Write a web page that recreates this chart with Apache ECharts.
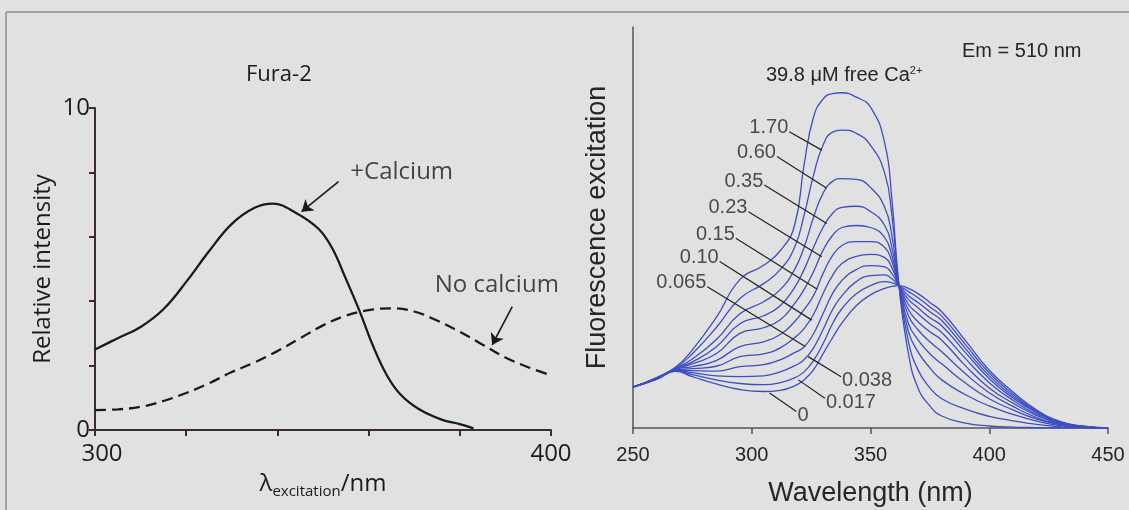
<!DOCTYPE html>
<html>
<head>
<meta charset="utf-8">
<script src="https://cdn.jsdelivr.net/npm/echarts@6/dist/echarts.min.js"></script>
<style>
html, body { margin: 0; padding: 0; background: #e1e1e1; }
#main { width: 1129px; height: 510px; }
</style>
</head>
<body>
<div id="main"></div>
<script>
// left panel : Fura-2, relative intensity vs excitation wavelength
var calciumX = [300, 305, 310, 315, 320, 325, 330, 335, 339, 344, 349, 352, 355, 358, 361, 364, 367, 371, 376, 380, 383];
var calciumY = [2.5, 2.85, 3.2, 3.75, 4.6, 5.55, 6.4, 6.9, 7.03, 6.75, 6.25, 5.65, 4.7, 3.7, 2.6, 1.7, 1.1, 0.65, 0.32, 0.18, 0.05];
var noCalciumX = [300, 305, 310, 315, 320, 325, 330, 335, 340, 345, 350, 355, 360, 365, 370, 375, 380, 385, 390, 395, 400];
var noCalciumY = [0.62, 0.64, 0.72, 0.9, 1.15, 1.45, 1.8, 2.1, 2.45, 2.85, 3.25, 3.55, 3.72, 3.78, 3.68, 3.4, 3.05, 2.65, 2.25, 1.95, 1.7];

// right panel : excitation spectra at different free Ca2+ (uM)
var wavelength = [250, 260, 268, 275, 285, 295, 305, 312, 318, 322, 326, 330, 334, 338, 344, 350, 356, 359, 362, 366, 370, 375, 380, 390, 400, 410, 420, 430, 440, 450];
var ca39_8 = [10.2, 12.6, 15.2, 19.5, 27.5, 37, 40.6, 44.2, 50.5, 65.5, 77.5, 82, 83.4, 83.6, 82.5, 80, 71, 57, 35.5, 18.5, 10, 5.5, 3, 1.2, 0.5, 0.2, 0.1, 0, 0, 0];
var ca1_70 = [10.2, 12.5, 15.0, 18.5, 25, 32.3, 36, 39.5, 45, 53, 63, 70.5, 73.8, 74.3, 73.5, 70.5, 63.5, 53, 35.5, 21.5, 14.5, 10, 7.3, 4.7, 2.9, 1.8, 0.9, 0.3, 0.1, 0];
var ca0_60 = [10.2, 12.5, 14.9, 17.2, 22, 28.5, 31.5, 34.5, 39.5, 45, 52.5, 58.5, 61.5, 62.2, 62, 60, 55, 48, 35.5, 24, 19, 15, 12, 8.3, 5.5, 3.4, 1.7, 0.6, 0.15, 0];
var ca0_35 = [10.2, 12.4, 14.8, 16.5, 20.2, 26, 28, 30.5, 35, 39.5, 45, 50, 53.5, 55, 55.3, 54, 50.5, 45, 35.5, 26, 22, 18.5, 16, 11.2, 7.3, 4.5, 2.2, 0.8, 0.2, 0];
var ca0_23 = [10.2, 12.4, 14.7, 16, 18.5, 23.6, 25, 27, 31, 34.5, 39, 44.3, 48, 50, 50.5, 50, 47.5, 43, 35.5, 28, 24.5, 21.5, 19, 13.5, 8.8, 5.4, 2.6, 0.9, 0.25, 0];
var ca0_15 = [10.2, 12.3, 14.6, 15.3, 16.8, 20.3, 21.5, 23.3, 26.5, 29.5, 33, 38.5, 43, 45.5, 46.5, 46.5, 45, 41.5, 35.5, 29.5, 26.5, 24, 21.9, 15.5, 10, 6.2, 3.1, 1, 0.27, 0];
var ca0_10 = [10.2, 12.3, 14.5, 14.8, 15.4, 17.8, 18.5, 20, 22.5, 24.8, 28.3, 33.5, 38, 41, 42.8, 43.3, 42.5, 40, 35.5, 30.8, 28.5, 26, 23.8, 17.3, 11.3, 6.9, 3.4, 1.2, 0.3, 0];
var ca0_065 = [10.2, 12.3, 14.4, 14.3, 14.2, 15.3, 15.8, 17, 18.8, 20.2, 23.5, 28.5, 33.5, 36.8, 39.5, 40.5, 40.2, 38.5, 35.5, 32, 30, 27.5, 25.5, 18.8, 12.3, 7.5, 3.8, 1.3, 0.35, 0];
var ca0_038 = [10.2, 12.2, 14.3, 13.8, 13, 12.8, 13, 14, 15.5, 17, 20, 24.5, 29.5, 33, 36.5, 38, 38.2, 37.2, 35.5, 33, 31.3, 29, 26.8, 19.8, 13, 8, 4, 1.4, 0.4, 0];
var ca0_017 = [10.2, 12.2, 14.2, 13.3, 12, 11.1, 10.8, 11.3, 12.5, 14, 16.8, 21, 26, 29.8, 33.5, 35.5, 36.5, 36.2, 35.5, 34, 32.5, 30.2, 27.9, 20.8, 13.7, 8.5, 4.2, 1.5, 0.4, 0];
var ca0 = [10.2, 12.2, 14.1, 12.8, 11, 9.6, 9.1, 9.4, 10.5, 12, 14.5, 18.5, 22.5, 26.2, 30.5, 33.2, 34.8, 35.3, 35.5, 34.8, 33.5, 31.3, 29, 21.8, 14.4, 9, 4.5, 1.6, 0.45, 0];
var spectra = [ca39_8, ca1_70, ca0_60, ca0_35, ca0_23, ca0_15, ca0_10, ca0_065, ca0_038, ca0_017, ca0];
var spectraNames = ['39.8', '1.70', '0.60', '0.35', '0.23', '0.15', '0.10', '0.065', '0.038', '0.017', '0'];

// curve labels and their leader lines (start, end) in data units
var labelNames = ['1.70', '0.60', '0.35', '0.23', '0.15', '0.10', '0.065', '0.038', '0.017', '0'];
var leaders = [
	[[315.8, 73.9], [329.5, 69.3]],
	[[310.6, 67.7], [331.6, 59.8]],
	[[305.3, 60.6], [331.6, 51.0]],
	[[298.6, 53.9], [329.5, 42.7]],
	[[293.3, 47.3], [327.6, 34.6]],
	[[286.5, 41.5], [325.3, 26.9]],
	[[281.3, 35.2], [322.5, 20.3]],
	[[323.8, 17.8], [337.6, 12.8]],
	[[319.6, 12.0], [330.8, 7.4]],
	[[307.5, 8.7], [318.8, 4.1]]
];

function zip(xs, ys) {
	var out = [];
	for (var i = 0; i < xs.length; i++) out.push([xs[i], ys[i]]);
	return out;
}

var leftFont = 'Open Sans';
var rightFont = 'Liberation Sans';
var ink = '#1c1c1c';
var ink2 = '#262626';

var series = [];

series.push({
	name : '+Calcium',
	type : 'line',
	xAxisIndex : 0,
	yAxisIndex : 0,
	data : zip(calciumX, calciumY),
	showSymbol : false,
	smooth : 0.4,
	lineStyle : { color : '#1a1a1a', width : 2.3 },
	markLine : {
		silent : true,
		symbol : [ 'none', 'arrow' ],
		symbolSize : 11,
		label : { show : false },
		lineStyle : { color : '#1a1a1a', width : 1.6, type : 'solid' },
		data : [ [ { coord : [ 353.4, 7.71 ] }, { coord : [ 345.3, 6.78 ] } ] ]
	}
});
series.push({
	name : 'No calcium',
	type : 'line',
	xAxisIndex : 0,
	yAxisIndex : 0,
	data : zip(noCalciumX, noCalciumY),
	showSymbol : false,
	smooth : 0.4,
	lineStyle : { color : '#1a1a1a', width : 2.3, type : [ 11, 6 ] },
	markLine : {
		silent : true,
		symbol : [ 'none', 'arrow' ],
		symbolSize : 11,
		label : { show : false },
		lineStyle : { color : '#1a1a1a', width : 1.6, type : 'solid' },
		data : [ [ { coord : [ 391.5, 3.83 ] }, { coord : [ 387.1, 2.64 ] } ] ]
	}
});
// left panel text
series.push({
	type : 'scatter',
	xAxisIndex : 0,
	yAxisIndex : 0,
	symbolSize : 0,
	silent : true,
	label : {
		show : true,
		position : 'right',
		distance : 0,
		formatter : '{b}',
		fontFamily : leftFont,
		fontSize : 24,
		color : ink
	},
	data : [ { name : '+Calcium', value : [ 356, 8.0 ] }, { name : 'No calcium', value : [ 374.5, 4.5 ] } ]
});

// right panel spectra
for (var k = 0; k < spectra.length; k++) {
	series.push({
		name : spectraNames[k],
		type : 'line',
		xAxisIndex : 1,
		yAxisIndex : 1,
		data : zip(wavelength, spectra[k]),
		showSymbol : false,
		smooth : 0.5,
		lineStyle : { color : '#3d4ec2', width : 1.3 }
	});
}

// right panel curve labels + leaders
var labelData = [];
var leaderData = [];
for (var j = 0; j < labelNames.length; j++) {
	var below = j >= 7;
	labelData.push({
		name : labelNames[j],
		value : below ? leaders[j][1] : leaders[j][0],
		label : {
			position : below ? 'right' : 'left',
			distance : 1,
			offset : below ? [ 0, 4 ] : [ 0, -4 ]
		}
	});
	leaderData.push([ { coord : leaders[j][0] }, { coord : leaders[j][1] } ]);
}
series.push({
	type : 'scatter',
	xAxisIndex : 1,
	yAxisIndex : 1,
	symbolSize : 0,
	silent : true,
	label : {
		show : true,
		formatter : '{b}',
		fontFamily : rightFont,
		fontSize : 20,
		color : ink2
	},
	data : labelData,
	markLine : {
		silent : true,
		symbol : [ 'none', 'none' ],
		label : { show : false },
		lineStyle : { color : '#222', width : 1.2, type : 'solid' },
		data : leaderData
	}
});

var option = {
	animation : false,
	backgroundColor : '#e1e1e1',
	title : [ {
		text : 'Fura-2',
		left : 246,
		top : 64,
		padding : 0,
		textStyle : { fontFamily : leftFont, fontSize : 22, fontWeight : 'normal', color : ink }
	}, {
		text : 'Em = 510 nm',
		left : 962,
		top : 41,
		padding : 0,
		textStyle : { fontFamily : rightFont, fontSize : 20, fontWeight : 'normal', color : ink2 }
	}, {
		text : '{a|39.8 μM free Ca}{b|2+}',
		left : 766,
		top : 65,
		padding : 0,
		textStyle : {
			fontWeight : 'normal',
			rich : {
				a : { fontFamily : rightFont, fontSize : 20, fontWeight : 'normal', color : ink2 },
				b : { fontFamily : rightFont, fontSize : 11, fontWeight : 'normal', color : ink2, padding : [ 0, 0, 9, 0 ] }
			}
		}
	} ],
	graphic : [ {
		type : 'line',
		silent : true,
		shape : { x1 : 6, y1 : 12, x2 : 1129, y2 : 12 },
		style : { stroke : '#8e8e8e', lineWidth : 1.5 }
	}, {
		type : 'line',
		silent : true,
		shape : { x1 : 6, y1 : 12, x2 : 6, y2 : 510 },
		style : { stroke : '#8e8e8e', lineWidth : 1.5 }
	} ],
	grid : [ {
		left : 95, right : 578, top : 108, bottom : 80,
		containLabel : false, outerBoundsMode : 'none'
	}, {
		left : 633, right : 21, top : 27, bottom : 82,
		containLabel : false, outerBoundsMode : 'none'
	} ],
	xAxis : [ {
		gridIndex : 0,
		type : 'value',
		min : 300,
		max : 400,
		interval : 20,
		name : '{l|λ}{s|excitation}{l|/nm}',
		nameLocation : 'middle',
		nameGap : 40,
		nameTextStyle : {
			rich : {
				l : { fontFamily : leftFont, fontSize : 24, color : ink },
				s : { fontFamily : leftFont, fontSize : 15, color : ink, padding : [ 14, 0, 0, 0 ] }
			}
		},
		axisLine : { lineStyle : { color : '#3b2b33', width : 2 } },
		axisTick : { length : 6, lineStyle : { color : '#3b2b33', width : 2 } },
		splitLine : { show : false },
		axisLabel : {
			margin : 12,
			fontFamily : leftFont,
			fontSize : 24,
			color : ink,
			formatter : function(v) {
				if (v === 300) return '{p|300}';
				if (v === 400) return '400';
				return '';
			},
			rich : { p : { fontFamily : leftFont, fontSize : 24, color : ink, padding : [ 0, 0, 0, 14 ] } }
		}
	}, {
		gridIndex : 1,
		type : 'value',
		min : 250,
		max : 450,
		interval : 50,
		name : 'Wavelength (nm)',
		nameLocation : 'middle',
		nameGap : 52,
		nameTextStyle : { fontFamily : rightFont, fontSize : 27, color : ink2 },
		axisLine : { lineStyle : { color : '#555', width : 1.5 } },
		axisTick : { length : 6, lineStyle : { color : '#555', width : 1.5 } },
		splitLine : { show : false },
		axisLabel : { margin : 17, fontFamily : rightFont, fontSize : 20, color : ink2 }
	} ],
	yAxis : [ {
		gridIndex : 0,
		type : 'value',
		min : 0,
		max : 10,
		interval : 2,
		name : 'Relative intensity',
		nameLocation : 'middle',
		nameGap : 40,
		nameTextStyle : { fontFamily : leftFont, fontSize : 24, color : ink },
		axisLine : { show : true, lineStyle : { color : '#3b2b33', width : 2 } },
		axisTick : { show : true, length : 6, lineStyle : { color : '#3b2b33', width : 2 } },
		splitLine : { show : false },
		axisLabel : {
			margin : 5,
			fontFamily : leftFont,
			fontSize : 24,
			color : ink,
			formatter : function(v) {
				return (v === 0 || v === 10) ? String(v) : '';
			}
		}
	}, {
		gridIndex : 1,
		type : 'value',
		min : 0,
		max : 100,
		name : 'Fluorescence excitation',
		nameLocation : 'middle',
		nameGap : 22,
		nameTextStyle : { fontFamily : rightFont, fontSize : 27, color : ink2 },
		axisLine : { show : true, lineStyle : { color : '#555', width : 1.5 } },
		axisTick : { show : false },
		axisLabel : { show : false },
		splitLine : { show : false }
	} ],
	series : series
};

var myChart = echarts.init(document.getElementById('main'));
myChart.setOption(option);
</script>
</body>
</html>
